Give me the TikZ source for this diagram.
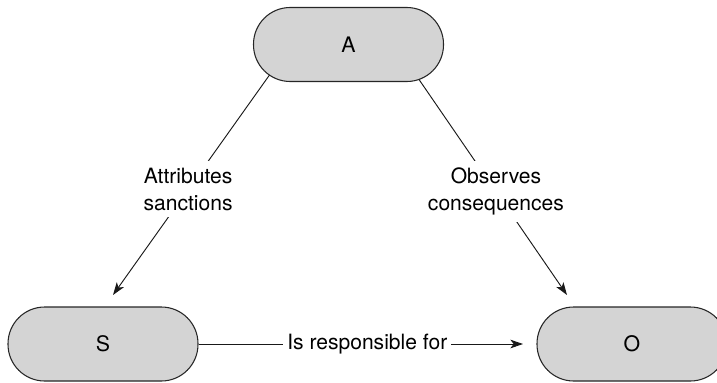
\documentclass[tikz,border=0pt]{standalone}
\usepackage{fontspec}
\setmainfont{TeX Gyre Heros}
\usetikzlibrary{arrows.meta}
\begin{document}
\begin{tikzpicture}[x=0.75pt,y=-0.75pt,
  state/.style={draw=black!85, line width=0.8pt, fill=black!17, rounded corners=27.5pt,
    minimum width=142.5pt, minimum height=55.5pt, inner sep=0pt,
    font=\fontsize{16}{20}\selectfont},
  conn/.style={draw=black!90, line width=0.7pt},
  arr/.style={-{Stealth[length=9.5pt,width=6.5pt,inset=2.5pt]}},
  lbl/.style={fill=white, inner xsep=3pt, inner ysep=5pt, align=center,
    font=\fontsize{15.8}{20.25}\selectfont}]
\useasboundingbox (0,0) rectangle (717,382);
\clip (0,0) rectangle (717,382);

\node[state] (A) at (348.5,44.5) {A};
\node[state] (S) at (103,344) {S};
\node[state] (O) at (632,344) {O};

\coordinate (a1) at (269.5,75);
\coordinate (s1) at (113,295);
\coordinate (a2) at (419,79.5);
\coordinate (o1) at (567,295);
\coordinate (o2) at (523,344);

\draw[conn,arr] (a1) -- node[lbl,pos=0.52] {Attributes\\sanctions} (s1);
\draw[conn,arr] (a2) -- node[lbl,pos=0.52] {Observes\\consequences} (o1);
\draw[conn,arr] (S.east) -- node[lbl,pos=0.52] {Is responsible for} (o2);
\end{tikzpicture}
\end{document}
